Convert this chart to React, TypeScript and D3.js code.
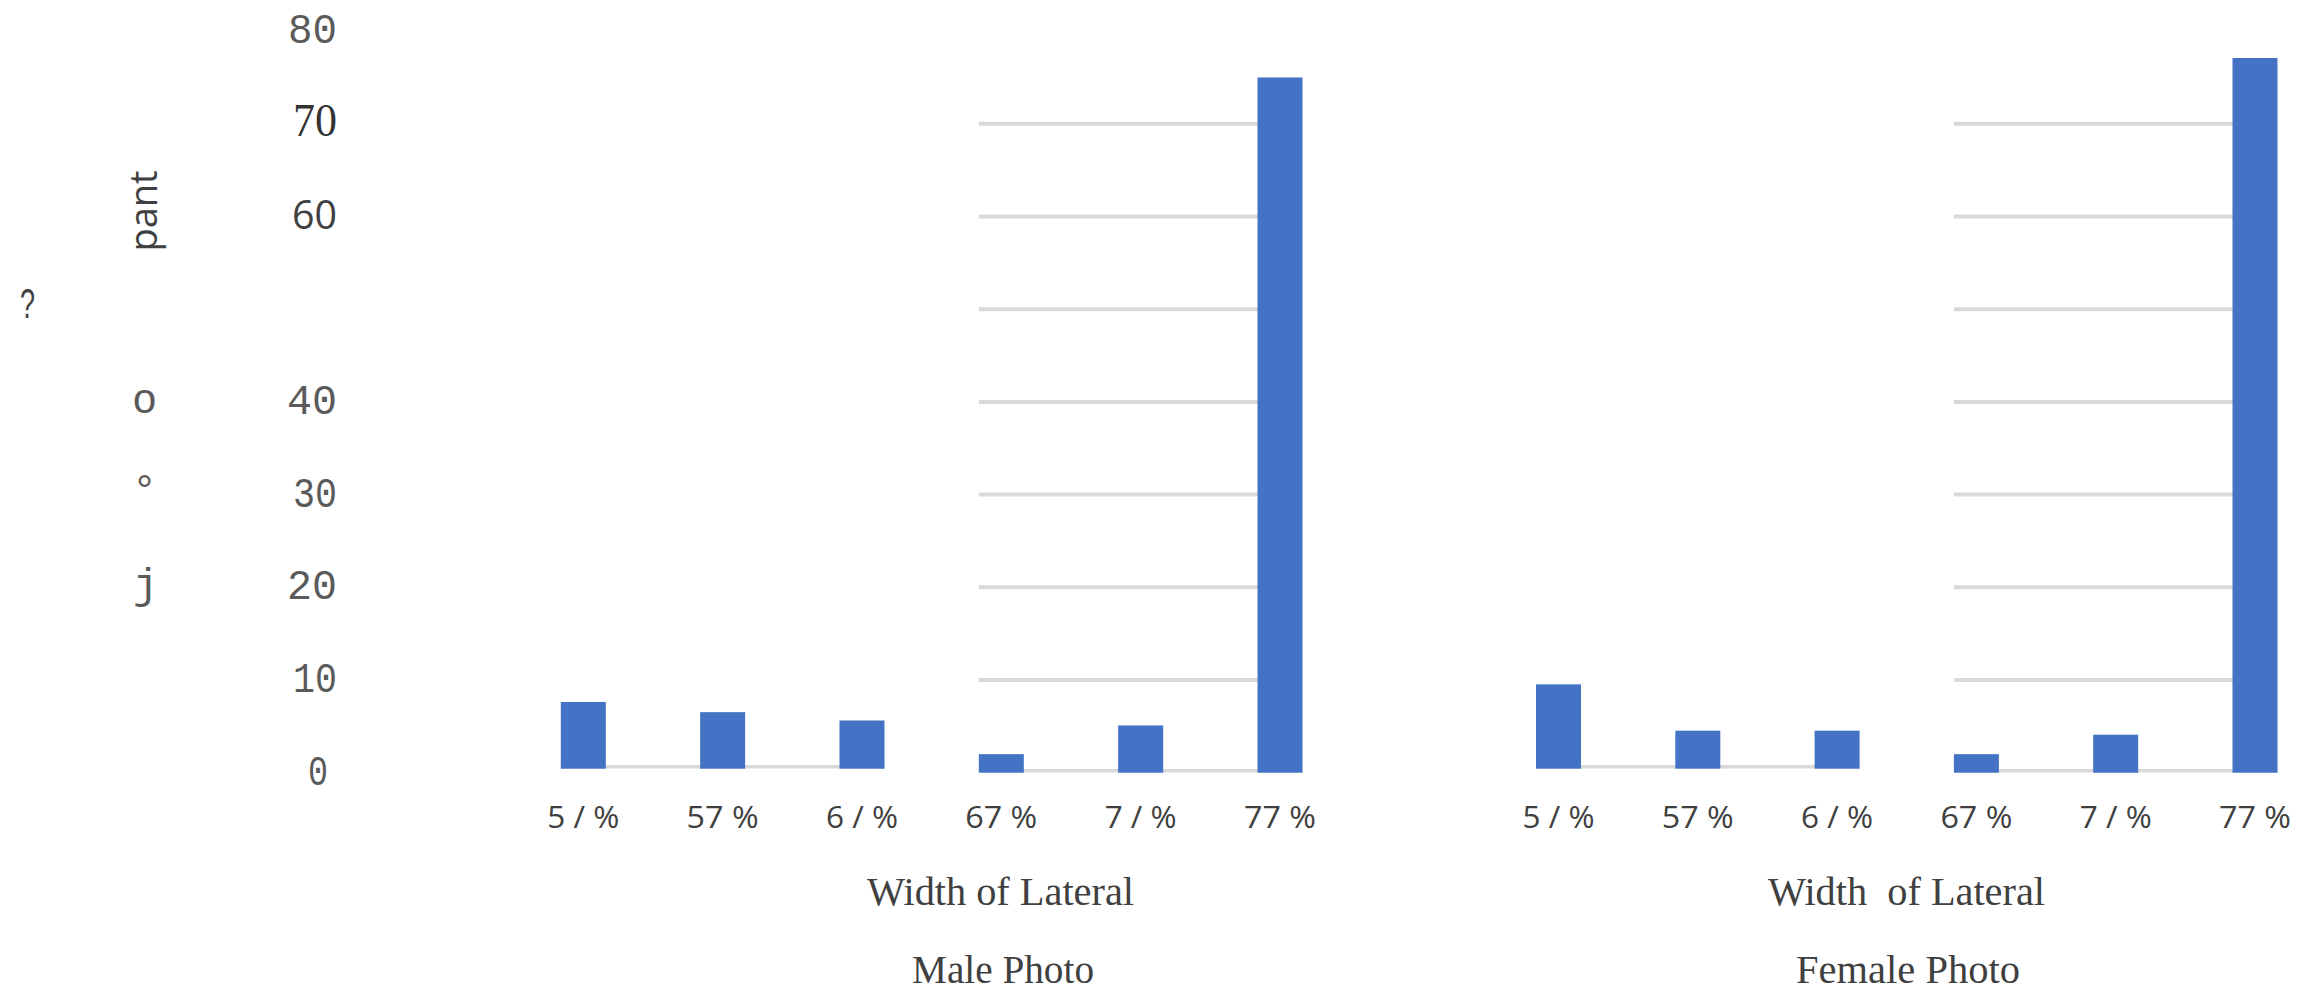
import React from "react";
import * as d3 from "d3";

const categories = ["5 / %", "57 %", "6 / %", "67 %", "7 / %", "77 %"];
const maleValues = [7.2, 6.1, 5.2, 2.0, 5.1, 75.0];
const femaleValues = [9.1, 4.1, 4.1, 2.0, 4.1, 77.1];
const gridTicks = [10, 20, 30, 40, 50, 60, 70];
const yTickValues = [80, 70, 60, 40, 30, 20, 10, 0];
const yTickText = ["80", "70", "60", "40", "30", "20", "10", "0"];
const xTitles = ["Width of Lateral", "Width  of Lateral"];
const panelTitles = ["Male Photo", "Female Photo"];
const sideGlyphs = ["?", "o", "°", "j"];
const yAxisWord = "pant";

const W = 2308;
const H = 1005;
const BAR = "#4472C4";
const GRID = "#d9d9d9";
const TEXT = "#404040";
const LIGHT = "#5a5a5a";

const yScale = d3.scaleLinear().domain([0, 80]).range([772.7, 31.1]);

const panels = [
  { values: maleValues, range: [583.3, 1280], xTitle: xTitles[0], title: panelTitles[0], titleX: 867, titleW: 267, subX: 912, subW: 182 },
  { values: femaleValues, range: [1558.5, 2255], xTitle: xTitles[1], title: panelTitles[1], titleX: 1768, titleW: 277, subX: 1796, subW: 224 },
];

const yLabelStyle = [
  { font: "Liberation Mono", size: 42, len: 49, fill: LIGHT },
  { font: "Liberation Serif", size: 46, len: 44, fill: "#333" },
  { font: "Open Sans", size: 41, len: 45, fill: TEXT },
  { font: "Liberation Mono", size: 42, len: 50, fill: LIGHT },
  { font: "Liberation Mono", size: 42, len: 44, fill: LIGHT },
  { font: "Liberation Mono", size: 42, len: 50, fill: LIGHT },
  { font: "Liberation Mono", size: 42, len: 44, fill: LIGHT },
  { font: "Liberation Mono", size: 42, len: 20, fill: LIGHT },
];

function Panel({ p }: { p: any }) {
  const x = d3.scalePoint<string>().domain(categories).range(p.range as [number, number]);
  const bw = 45;
  const shift = (i: number) => (i < 3 ? -4 : 0);
  const lx0 = (x(categories[0]) as number) - bw / 2;
  const lx1 = (x(categories[2]) as number) + bw / 2;
  const rx0 = (x(categories[3]) as number) - bw / 2;
  const rx1 = (x(categories[5]) as number) + bw / 2;
  return (
    <g>
      {gridTicks.map((t) => (
        <line key={t} x1={rx0} x2={rx1} y1={yScale(t)} y2={yScale(t)} stroke={GRID} strokeWidth={4} />
      ))}
      <line x1={lx0} x2={lx1} y1={yScale(0) - 6} y2={yScale(0) - 6} stroke={GRID} strokeWidth={3.5} />
      <line x1={rx0} x2={rx1} y1={yScale(0) - 2} y2={yScale(0) - 2} stroke={GRID} strokeWidth={3.5} />
      {p.values.map((v: number, i: number) => {
        const cx = x(categories[i]) as number;
        const y0 = yScale(0) + shift(i);
        const y1 = yScale(v) + shift(i);
        return <rect key={i} x={cx - bw / 2} y={y1} width={bw} height={y0 - y1} fill={BAR} />;
      })}
      {categories.map((c) => (
        <text
          key={c}
          x={(x(c) as number) - 36}
          y={828}
          fontFamily="Open Sans"
          fontSize={31}
          fill={TEXT}
          textLength={72}
          lengthAdjust="spacingAndGlyphs"
        >
          {c}
        </text>
      ))}
      <text x={p.titleX} y={905} fontFamily="Liberation Serif" fontSize={40} fill={TEXT} textLength={p.titleW} lengthAdjust="spacingAndGlyphs" style={{ whiteSpace: "pre" }}>
        {p.xTitle}
      </text>
      <text x={p.subX} y={983} fontFamily="Liberation Serif" fontSize={40} fill={TEXT} textLength={p.subW} lengthAdjust="spacingAndGlyphs">
        {p.title}
      </text>
    </g>
  );
}

export default function App() {
  return (
    <svg width={W} height={H} style={{ position: "absolute", left: 0, top: 0, background: "#fff" }}>
      <rect width={W} height={H} fill="#fff" />
      {yTickValues.map((v, i) => {
        const s = yLabelStyle[i];
        const yc = yScale(v) - 3;
        return (
          <text
            key={v}
            x={v === 0 ? 328 : 337}
            y={yc + 15}
            textAnchor="end"
            fontFamily={s.font}
            fontSize={s.size}
            fill={s.fill}
            textLength={s.len}
            lengthAdjust="spacingAndGlyphs"
          >
            {yTickText[i]}
          </text>
        );
      })}
      <text x={20} y={318} fontFamily="Liberation Sans" fontSize={42} fill={TEXT} textLength={15} lengthAdjust="spacingAndGlyphs">
        {sideGlyphs[0]}
      </text>
      <text x={132} y={413} fontFamily="Liberation Mono" fontSize={42} fill={LIGHT}>
        {sideGlyphs[1]}
      </text>
      <text x={132} y={504} fontFamily="Liberation Mono" fontSize={42} fill={LIGHT}>
        {sideGlyphs[2]}
      </text>
      <text x={133} y={598} fontFamily="Liberation Mono" fontSize={42} fill={LIGHT}>
        {sideGlyphs[3]}
      </text>
      <text transform="translate(157,211) rotate(-90)" textAnchor="middle" fontFamily="Open Sans" fontSize={38} fill={TEXT}>
        {yAxisWord}
      </text>
      {panels.map((p, i) => (
        <Panel key={i} p={p} />
      ))}
    </svg>
  );
}
